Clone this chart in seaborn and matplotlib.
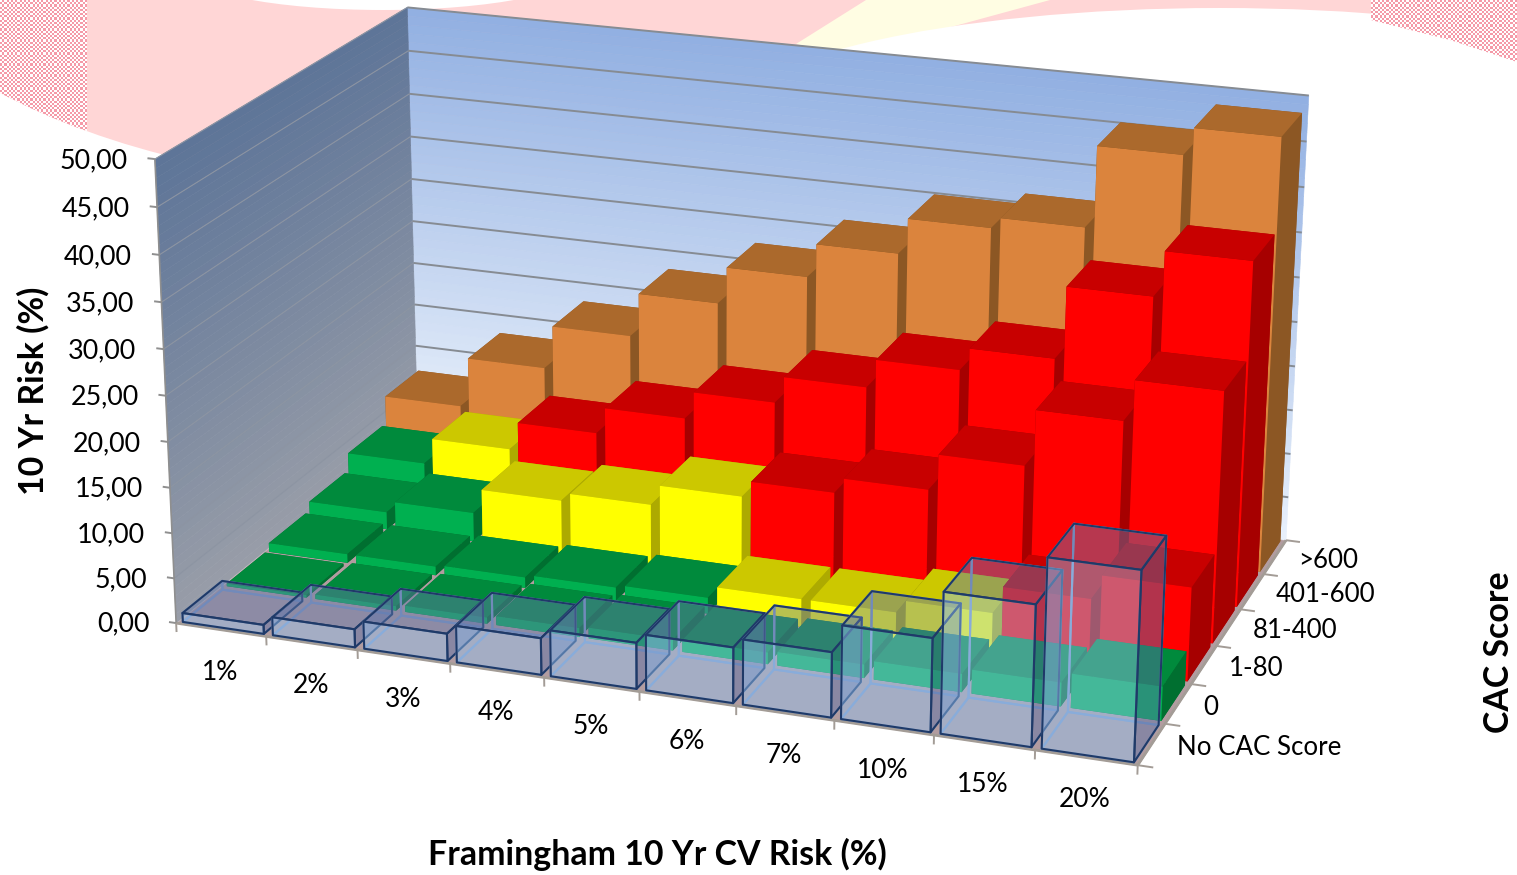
import numpy as np
import matplotlib
matplotlib.use("Agg")
import matplotlib.pyplot as plt
from matplotlib.patches import Ellipse, Polygon, Rectangle
from mpl_toolkits.mplot3d import proj3d
from mpl_toolkits.mplot3d.art3d import Poly3DCollection, Line3DCollection
import seaborn as sns

# ---- data -----------------------------------------------------------------
framingham = ["1%", "2%", "3%", "4%", "5%", "6%", "7%", "10%", "15%", "20%"]
cac_scores = ["No CAC Score", "0", "1-80", "81-400", "401-600", ">600"]
z_ticks = [0, 5, 10, 15, 20, 25, 30, 35, 40, 45, 50]

risk_no_score = [1, 2, 3, 4, 5, 6, 7, 10, 15, 20]
risk_0 = [0.3, 0.5, 0.7, 1.0, 1.2, 1.3, 1.5, 2.0, 2.6, 3.7]
risk_1_80 = [1.0, 1.0, 1.2, 1.5, 1.8, 3.1, 3.1, 4.5, 7.5, 10.2]
risk_81_400 = [2.0, 3.3, 6.1, 7.0, 9.3, 11.1, 12.8, 16.8, 23.0, 27.5]
risk_401_600 = [4.0, 7.0, 10.2, 13.2, 16.3, 19.3, 22.5, 25.0, 33.0, 38.0]
risk_over_600 = [7.2, 13.0, 18.0, 23.0, 27.2, 31.0, 35.0, 36.2, 45.2, 48.2]

band_no_score = "n" * 10
band_0 = "g" * 10
band_1_80 = "gggggyyyrr"
band_81_400 = "ggyyyrrrrr"
band_401_600 = "gyrrrrrrrr"
band_over_600 = "o" * 10

# per-band face colours: (front, top, side)
band_colors = {
    "g": ("#00B050", "#008A3C", "#006F30"),
    "y": ("#FFFF00", "#CCC800", "#ADAA00"),
    "r": ("#FF0000", "#C80000", "#A60000"),
    "o": ("#DB843D", "#AB692C", "#8C5724"),
}

risks = [risk_no_score, risk_0, risk_1_80, risk_81_400, risk_401_600, risk_over_600]
bands = [band_no_score, band_0, band_1_80, band_81_400, band_401_600, band_over_600]

# ---- theme ----------------------------------------------------------------
sns.set_theme(style="white")
plt.rcParams["font.family"] = ["Lato", "DejaVu Sans"]

W, H = 1517, 875
fig = plt.figure(figsize=(W / 100, H / 100), dpi=100, facecolor="white")

# ---- slide backdrop -------------------------------------------------------
bg = fig.add_axes([0, 0, 1, 1], zorder=0)
bg.set_xlim(0, W)
bg.set_ylim(H, 0)
bg.axis("off")

pink = "#FFD6D6"
bg.add_patch(Ellipse((420, -140), 1200, 652, fc=pink, ec="none"))
bg.add_patch(Rectangle((950, 0), 430, 40, fc=pink, ec="none"))
bg.add_patch(Polygon([(796, 44), (866, 0), (1050, 0), (929, 33), (905, 70)],
                     fc="#FFFDE3", ec="none"))
bg.add_patch(Ellipse((1220, 126), 1000, 236, fc="white", ec="none"))
bg.add_patch(Ellipse((383, -30), 396, 80, fc="white", ec="none"))

dots = np.array(sns.blend_palette(["#FFFFFF", "#F59AA8"], 2))
left_dots = bg.imshow(dots[np.indices((64, 40)).sum(axis=0) % 2],
                      extent=(0, 87, 140, 0), interpolation="nearest",
                      aspect="auto", zorder=1)
left_dots.set_clip_path(Ellipse((420, -140), 1200, 652, transform=bg.transData))
right_dots = bg.imshow(dots[np.indices((28, 66)).sum(axis=0) % 2],
                       extent=(1371, W, 62, 0), interpolation="nearest",
                       aspect="auto", zorder=1)
right_dots.set_clip_path(Polygon([(1371, 0), (W, 0), (W, 62), (1450, 40), (1371, 20)],
                                 transform=bg.transData))
bg.set_xlim(0, W)
bg.set_ylim(H, 0)
bg.set_xticks([])
bg.set_yticks([])

# ---- 3D axes with a camera solved from where the box corners land ----------
ax = fig.add_axes([0, 0, 1, 1], projection="3d", zorder=1)
ax.set_facecolor("none")
ax.patch.set_visible(False)
ax.set_axis_off()
ax.apply_aspect = lambda position=None: None
ax.viewLim.intervalx = (0, W)
ax.viewLim.intervaly = (H, 0)

NX, NY, ZMAX = len(framingham), len(cac_scores), z_ticks[-1]
box_world = [(0, 0, 0), (NX, 0, 0), (NX, NY, 0), (0, NY, 0),
             (0, 0, ZMAX), (0, NY, ZMAX), (NX, NY, ZMAX),
             (5, 0, 0), (7, 0, 0), (NX, 3, 0), (0, NY, 25), (0, 0, 25)]
box_screen = [(176, 622.5), (1137.5, 765), (1285, 540), (418, 429),
              (155, 160), (407, 7), (1309, 96),
              (639, 691), (834, 722), (1218, 645), (412.5, 220), (166, 395)]


def solve_camera(world, screen):
    rows = []
    for (x, y, z), (u, v) in zip(world, screen):
        u, v = u / 1000, v / 1000
        rows.append([x, y, z, 1, 0, 0, 0, 0, -u * x, -u * y, -u * z, -u])
        rows.append([0, 0, 0, 0, x, y, z, 1, -v * x, -v * y, -v * z, -v])
    p = np.linalg.svd(np.array(rows))[2][-1].reshape(3, 4)
    if p[2, 3] < 0:
        p = -p
    p = p / p[2, 3]
    m = np.zeros((4, 4))
    m[0] = p[0] * 1000
    m[1] = p[1] * 1000
    m[2] = [0, 0, 0, -1]   # depth is -1/w, so farther points sort first
    m[3] = p[2]
    return m


camera = solve_camera(box_world, box_screen)
ax.get_proj = lambda: camera
ax.computed_zorder = False

# ---- walls and floor ------------------------------------------------------
order = 1
n_strips = 50
strip_edges = np.linspace(0, ZMAX, n_strips + 1)
back_shades = sns.blend_palette(["#E8F0FB", "#92B0E2"], n_strips)
left_shades = sns.blend_palette(["#989DA8", "#5E7598"], n_strips)
back_polys, left_polys = [], []
for lo, hi in zip(strip_edges[:-1], strip_edges[1:]):
    back_polys.append([(0, NY, lo), (NX, NY, lo), (NX, NY, hi), (0, NY, hi)])
    left_polys.append([(0, 0, lo), (0, NY, lo), (0, NY, hi), (0, 0, hi)])
for polys, shades in ((back_polys, back_shades), (left_polys, left_shades)):
    coll = Poly3DCollection(polys, facecolors=shades, edgecolors=shades, linewidths=0.4,
                            zsort="average")
    coll.set_zorder(order)
    ax.add_collection3d(coll, autolim=False)
    order += 1
floor = Poly3DCollection([[(0, 0, 0), (NX, 0, 0), (NX, NY, 0), (0, NY, 0)]],
                         facecolors="#B29CA0", edgecolors="#B29CA0", linewidths=0.4)
floor.set_zorder(order)
ax.add_collection3d(floor, autolim=False)
order += 1


def add_segments(segments, color, width):
    global order
    lines = Line3DCollection(segments, colors=color, linewidths=width)
    lines.set_zorder(order)
    ax.add_collection3d(lines, autolim=False)
    order += 1


# gridlines, axis lines and tick marks
add_segments([[(0, NY, z), (NX, NY, z)] for z in z_ticks[1:]], "#868B92", 1.4)
add_segments([[(0, 0, z), (0, NY, z)] for z in z_ticks[1:]], "#8C94A2", 0.8)
add_segments([[(0, 0, 0), (0, 0, ZMAX)]], "#8F8F8F", 1.2)
add_segments([[(0, 0, 0), (NX, 0, 0)], [(NX, 0, 0), (NX, NY, 0)]], "#A39C96", 2.0)
add_segments([[(-0.08, 0, z), (0, 0, z)] for z in z_ticks], "#8F8F8F", 1.4)
add_segments([[(i, 0, 0), (i, 0, -1.0)] for i in range(NX + 1)], "#A39C96", 1.4)
add_segments([[(NX, j, 0), (NX + 0.15, j, 0)] for j in range(NY + 1)], "#A39C96", 1.4)

# ---- bars: back row first, left to right inside a row -----------------------
BAR_W, BAR_D = 0.90, 0.90
# the glass row: only the three faces toward the viewer carry a tint
glass_face = [(0.59, 0.76, 0.94, 0.02), (0.39, 0.47, 0.67, 0.45),
              (0.59, 0.76, 0.94, 0.45), (0.59, 0.76, 0.94, 0.02),
              (0.59, 0.76, 0.94, 0.02), (0.35, 0.43, 0.65, 0.45)]
glass_edge = ["#7F9AC8", "#1F3A68", "#1F3A68", "#7F9AC8", "#7F9AC8", "#1F3A68"]

for j in range(NY - 1, -1, -1):
    for i in range(NX):
        x0 = i + (1 - BAR_W) / 2
        y0 = j + (1 - BAR_D) / 2
        if bands[j][i] == "n":
            bar = ax.bar3d(x0, y0, 0, BAR_W, BAR_D, risks[j][i], color=glass_face,
                           shade=False, edgecolors=glass_edge, linewidths=1.5)
        else:
            front, top, side = band_colors[bands[j][i]]
            # face order: bottom, top, front, back, left, right
            bar = ax.bar3d(x0, y0, 0, BAR_W, BAR_D, risks[j][i],
                           color=[side, top, front, side, side, side],
                           shade=False, linewidth=0)
        bar.set_zorder(order)
        order += 1


# ---- labels ---------------------------------------------------------------
def label_at(x, y, z, text, **kwargs):
    # project the box position through the camera, then place plain 2D text
    u, v, _ = proj3d.proj_transform(x, y, z, camera)
    ax.text2D(u, v, text, transform=ax.transData, color="black", zorder=order, **kwargs)


for z in z_ticks:
    label_at(-0.30, 0, z - 0.55, f"{z:.2f}".replace(".", ","), ha="right", va="center", fontsize=19.4)
for i, label in enumerate(framingham):
    label_at(i + 0.96 - 0.22 * i / (NX - 1), -0.96 + 0.06 * i / (NX - 1), 0, label,
             ha="center", va="center", fontsize=19)
for j, label in enumerate(cac_scores):
    label_at(NX + 0.25, j + 0.5, 0, label, ha="left", va="center", fontsize=18.6)

ax.set_xlim(0, NX)
ax.set_ylim(0, NY)
ax.set_zlim(0, ZMAX)
ax.set_xticks([])
ax.set_yticks([])
ax.set_zticks([])

title_font = dict(fontweight="bold", fontsize=24.4, color="black", zorder=5)
fig.text(657 / W, 1 - 854 / H, "Framingham 10 Yr CV Risk (%)", ha="center", va="center", **title_font)
fig.text(33 / W, 1 - 391 / H, "10 Yr Risk (%)", rotation=90, ha="center", va="center", **title_font)
fig.text(1499 / W, 1 - 652 / H, "CAC Score", rotation=90, ha="center", va="center", **title_font)

fig.savefig("out.png", dpi=100)
